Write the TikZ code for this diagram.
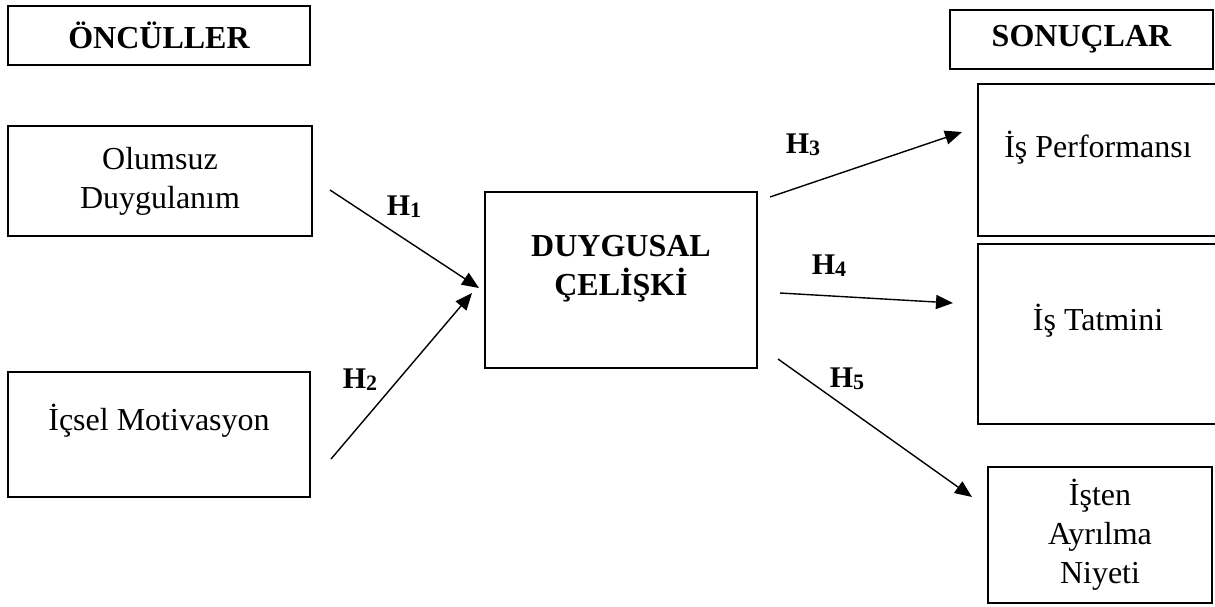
\documentclass[tikz,border=0pt]{standalone}
\usepackage{fontspec}
\setmainfont{Liberation Serif}
\usetikzlibrary{arrows.meta}
\tikzset{
  box/.style={draw, line width=1.6pt, inner sep=0pt, align=center,
    font=\fontsize{32}{39}\selectfont},
  headbox/.style={box, font=\fontsize{32}{39}\selectfont\bfseries},
  link/.style={line width=1.4pt, -{Triangle[length=17pt,width=14pt]}},
  hyp/.style={font=\fontsize{30}{30}\selectfont\bfseries, inner sep=0pt}
}
\newcommand\hlab[1]{H{\fontsize{22}{22}\selectfont\raisebox{-2pt}{#1}}}

\begin{document}
\begin{tikzpicture}[x=1pt,y=-1pt]
\useasboundingbox (0,0) rectangle (1215,606);
\clip (0,0) rectangle (1215,606);

% column headers
\node[headbox, minimum width=302pt, minimum height=59pt] (oncul) at (159,35.5) {ÖNCÜLLER};
\node[headbox, minimum width=263pt, minimum height=59pt] (sonuc) at (1081.5,39.5) {SONUÇLAR};

% antecedents
\node[box, minimum width=304pt, minimum height=110pt] (olumsuz) at (160,181) {Olumsuz\\Duygulanım};
\node[box, minimum width=302pt, text height=59pt, text depth=66pt, anchor=north] (icsel) at (159,371) {İçsel Motivasyon};

% central construct (text sits in the upper part of the box)
\node[headbox, minimum width=272pt, text height=104pt, text depth=72pt, anchor=north] (celiski) at (621,191) {DUYGUSAL\\ÇELİŞKİ};

% outcomes
\node[box, minimum width=240pt, text height=74pt, text depth=78pt, anchor=north] (perf) at (1098,83) {İş Performansı};
\node[box, minimum width=240pt, text height=87pt, text depth=93pt, anchor=north] (tatmin) at (1098,243) {İş Tatmini};
\node[box, minimum width=224pt, minimum height=136pt] (ayrilma) at (1100,535) {İşten\\Ayrılma\\Niyeti};

% arrow end points
\coordinate (h1s) at (330,190);  \coordinate (h1e) at (479,288);
\coordinate (h2s) at (331,459);  \coordinate (h2e) at (472,293);
\coordinate (h3s) at (770,197);  \coordinate (h3e) at (962,132);
\coordinate (h4s) at (780,293);  \coordinate (h4e) at (953,303);
\coordinate (h5s) at (778,359);  \coordinate (h5e) at (972,497);

\draw[link] (h1s) -- (h1e);
\draw[link] (h2s) -- (h2e);
\draw[link] (h3s) -- (h3e);
\draw[link] (h4s) -- (h4e);
\draw[link] (h5s) -- (h5e);

% hypothesis labels
\node[hyp] (lh1) at (404,207) {\hlab{1}};
\node[hyp] (lh2) at (360,380) {\hlab{2}};
\node[hyp] (lh3) at (803,145) {\hlab{3}};
\node[hyp] (lh4) at (829,266) {\hlab{4}};
\node[hyp] (lh5) at (847,379) {\hlab{5}};
\end{tikzpicture}
\end{document}
